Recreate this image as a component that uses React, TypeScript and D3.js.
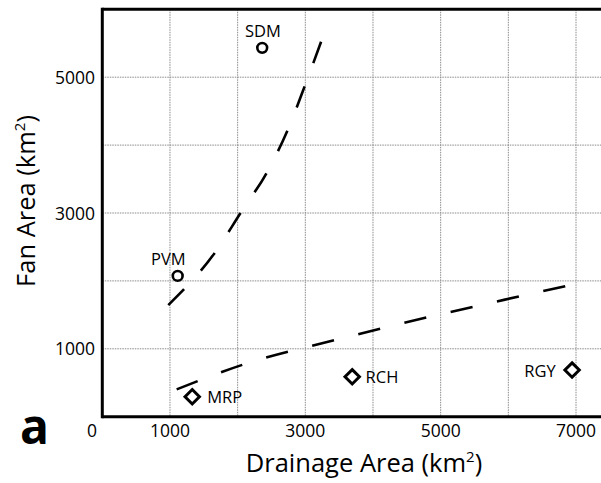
import React from "react";
import * as d3 from "d3";

// ---------- data ----------
const pointNames = ["SDM", "PVM", "MRP", "RCH", "RGY"];
const drainageArea = [2363, 1114, 1329, 3693, 6942];
const fanArea = [5432, 2074, 294, 588, 687];
const pointShapes = ["circle", "circle", "diamond", "diamond", "diamond"];

// trend curves
const upperTrendX = [975, 1665, 2049, 2433, 2747, 3004, 3245];
const upperTrendY = [1643, 2418, 3010, 3599, 4241, 4903, 5554];
const lowerTrendX = [1099, 2074, 3437, 4815, 6195, 6883];
const lowerTrendY = [403, 765, 1128, 1466, 1779, 1932];

const xGridValues = [1000, 2000, 3000, 4000, 5000, 6000, 7000];
const yGridValues = [1000, 2000, 3000, 4000, 5000];
const xTickLabels = [0, 1000, 3000, 5000, 7000];
const yTickLabels = [1000, 3000, 5000];

// ---------- layout ----------
const W = 601;
const H = 483;
const FONT = "'Open Sans', 'Noto Sans', sans-serif";

const labelOffsets: Record<string, { dx: number; dy: number; anchor: string }> = {
  SDM: { dx: 0.7, dy: -11.3, anchor: "middle" },
  PVM: { dx: -9.4, dy: -10.7, anchor: "middle" },
  MRP: { dx: 15, dy: 6.6, anchor: "start" },
  RCH: { dx: 13.4, dy: 6.6, anchor: "start" },
  RGY: { dx: -16.3, dy: 7.3, anchor: "end" },
};

export default function App() {
  const x = d3.scaleLinear().domain([0, 7000]).range([102.3, 576]);
  const y = d3.scaleLinear().domain([0, 6000]).range([416.7, 9.3]);

  const line = d3
    .line<[number, number]>()
    .x((d) => x(d[0]))
    .y((d) => y(d[1]))
    .curve(d3.curveMonotoneX);

  const upper = line(upperTrendX.map((v, i) => [v, upperTrendY[i]] as [number, number])) || "";
  const lower = line(lowerTrendX.map((v, i) => [v, lowerTrendY[i]] as [number, number])) || "";

  const x0 = x(0);
  const yTop = y(6000);
  const yBot = y(0);

  return (
    <svg
      width={W}
      height={H}
      style={{ position: "absolute", left: 0, top: 0, background: "#fff" }}
      fontFamily={FONT}
    >
      <rect x={0} y={0} width={W} height={H} fill="#fff" />
      {/* grid */}
      <g stroke="#8a8a8a" strokeWidth={1} strokeDasharray="1.5 1">
        {xGridValues.map((v) => (
          <line key={"gx" + v} x1={x(v)} x2={x(v)} y1={yTop} y2={yBot} />
        ))}
        {yGridValues.map((v) => (
          <line key={"gy" + v} x1={x0} x2={W} y1={y(v)} y2={y(v)} />
        ))}
      </g>

      {/* trend lines */}
      <g fill="none" stroke="#000" strokeWidth={2.6} strokeDasharray="22.5 25">
        <path d={upper} />
        <path d={lower} />
      </g>

      {/* frame */}
      <g stroke="#000" strokeWidth={3} fill="none">
        <line x1={x0} x2={W} y1={yTop} y2={yTop} />
        <line x1={x0} x2={W} y1={yBot} y2={yBot} />
        <line x1={x0} x2={x0} y1={yTop - 1.5} y2={yBot + 1.5} />
      </g>

      {/* points */}
      {pointNames.map((name, i) => {
        const cx = x(drainageArea[i]);
        const cy = y(fanArea[i]);
        const off = labelOffsets[name];
        return (
          <g key={name}>
            {pointShapes[i] === "circle" ? (
              <circle cx={cx} cy={cy} r={4.9} fill="#fff" stroke="#000" strokeWidth={2.6} />
            ) : (
              <path
                d={`M${cx},${cy - 7.2}L${cx + 7.2},${cy}L${cx},${cy + 7.2}L${cx - 7.2},${cy}Z`}
                fill="#fff"
                stroke="#000"
                strokeWidth={3}
              />
            )}
            <text
              x={cx + off.dx}
              y={cy + off.dy}
              textAnchor={off.anchor}
              fontSize={16.5}
              fill="#000"
            >
              {name}
            </text>
          </g>
        );
      })}

      {/* y tick labels */}
      {yTickLabels.map((v) => (
        <text key={"yt" + v} x={95} y={y(v) + 6.5} textAnchor="end" fontSize={17.5} fill="#000">
          {v}
        </text>
      ))}
      {/* x tick labels */}
      {xTickLabels.map((v) => (
        <text
          key={"xt" + v}
          x={v === 0 ? 92 : x(v)}
          y={436.5}
          textAnchor="middle"
          fontSize={17.5}
          fill="#000"
        >
          {v}
        </text>
      ))}

      {/* axis titles */}
      <text x={364} y={472} textAnchor="middle" fontSize={25.5} fill="#000">
        Drainage Area (km
        <tspan fontSize={15} dy={-10}>2</tspan>
        <tspan dy={10}>)</tspan>
      </text>
      <text
        transform={`translate(35,201) rotate(-90)`}
        textAnchor="middle"
        fontSize={25.5}
        fill="#000"
      >
        Fan Area (km
        <tspan fontSize={15} dy={-10}>2</tspan>
        <tspan dy={10}>)</tspan>
      </text>

      {/* panel letter */}
      <text x={34.5} y={444} textAnchor="middle" fontSize={48} fontWeight="bold" fill="#000">
        a
      </text>
    </svg>
  );
}
